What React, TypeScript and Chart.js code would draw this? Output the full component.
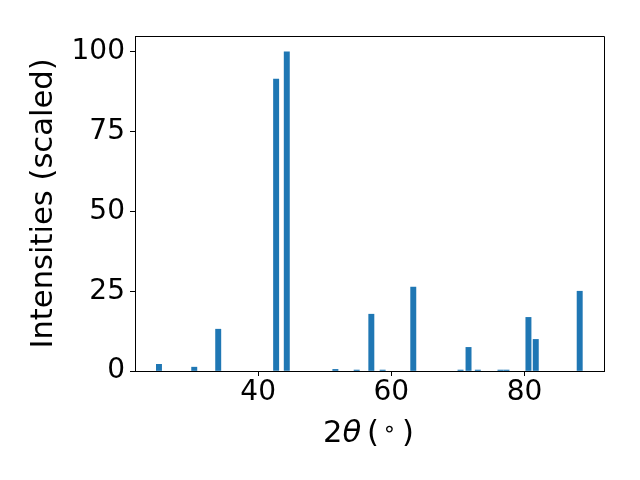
import React, { useEffect, useRef } from "react";
import { Chart, registerables } from "chart.js";

Chart.register(...registerables);

const twoTheta = [25.1, 30.4, 34.0, 42.7, 44.3, 51.6, 54.8, 57.0, 58.7, 63.3, 70.4, 71.6, 73.0, 76.4, 77.3, 80.6, 81.7, 88.3];
const intensity = [2.1, 1.2, 13.1, 91.5, 100, 0.5, 0.3, 17.8, 0.3, 26.3, 0.3, 7.4, 0.3, 0.3, 0.3, 16.8, 9.9, 25.0];
const xTicks = [40, 60, 80];
const yTicks = [0, 25, 50, 75, 100];
const xRange = [21.5, 91.95];
const yRange = [0, 105];
const yLabel = "Intensities (scaled)";

const FONT = "'DejaVu Sans', sans-serif";
const LABEL_SIZE = 30.6;

const framePlugin = {
  id: "frame",
  afterDraw(chart: any) {
    const { ctx, chartArea } = chart;
    ctx.save();
    ctx.strokeStyle = "#000";
    ctx.lineWidth = 1;
    const l = Math.round(chartArea.left) + 0.5;
    const r = Math.round(chartArea.right) + 0.5;
    const t = Math.round(chartArea.top) + 0.5;
    const b = Math.round(chartArea.bottom) + 0.5;
    ctx.beginPath();
    ctx.moveTo(l, t);
    ctx.lineTo(r, t);
    ctx.lineTo(r, b);
    ctx.stroke();

    // x-axis label: 2θ ( ∘ )
    const cx = (chartArea.left + chartArea.right) / 2;
    const baseY = 442;
    const main = `${LABEL_SIZE}px ${FONT}`;
    const ital = `oblique ${LABEL_SIZE}px ${FONT}`;
    ctx.fillStyle = "#000";
    ctx.textBaseline = "alphabetic";
    ctx.textAlign = "left";
    let x = cx - 46.5;
    ctx.font = main;
    ctx.fillText("2", x, baseY);
    x += ctx.measureText("2").width;
    ctx.font = ital;
    ctx.fillText("θ", x, baseY);
    ctx.font = main;
    ctx.fillText("(", cx - 2.5, baseY);
    ctx.fillText(")", cx + 32.5, baseY);
    ctx.font = `22px ${FONT}`;
    ctx.textAlign = "center";
    ctx.fillText("∘", cx + 20, baseY - 6);
    ctx.restore();
  },
};

export default function App() {
  const ref = useRef<HTMLCanvasElement | null>(null);
  useEffect(() => {
    if (!ref.current) return;
    const chart = new Chart(ref.current, {
      type: "bar",
      data: {
        datasets: [
          {
            data: twoTheta.map((x, i) => ({ x, y: intensity[i] })),
            backgroundColor: "#1f77b4",
            borderWidth: 0,
            barThickness: 5.3,
          },
        ],
      },
      options: {
        animation: false,
        responsive: false,
        devicePixelRatio: 1,
        layout: { padding: { top: 36, right: 36, left: 0, bottom: 0 } },
        plugins: { legend: { display: false }, tooltip: { enabled: false } },
        scales: {
          x: {
            type: "linear",
            min: xRange[0],
            max: xRange[1],
            offset: false,
            bounds: "data",
            afterBuildTicks: (s: any) => {
              s.ticks = xTicks.map((v) => ({ value: v }));
            },
            afterFit: (s: any) => {
              s.height = 109;
            },
            grid: { offset: false, drawOnChartArea: false, drawTicks: true, tickLength: 5, tickColor: "#000", tickWidth: 1 },
            border: { display: true, color: "#000", width: 1 },
            ticks: { color: "#000", font: { family: FONT, size: 28 }, padding: 0, maxRotation: 0, autoSkip: false },
          },
          y: {
            type: "linear",
            min: yRange[0],
            max: yRange[1],
            bounds: "data",
            afterBuildTicks: (s: any) => {
              s.ticks = yTicks.map((v) => ({ value: v }));
            },
            afterFit: (s: any) => {
              s.width = 135;
            },
            grid: { drawOnChartArea: false, drawTicks: true, tickLength: 5, tickColor: "#000", tickWidth: 1 },
            border: { display: true, color: "#000", width: 1 },
            ticks: { color: "#000", font: { family: FONT, size: 28 }, padding: 5, autoSkip: false },
            title: {
              display: true,
              text: yLabel,
              color: "#000",
              font: { family: FONT, size: LABEL_SIZE },
              padding: { top: 26, bottom: 0 },
            },
          },
        },
      },
      plugins: [framePlugin],
    });
    return () => chart.destroy();
  }, []);
  return (
    <div style={{ position: "fixed", left: 0, top: 0, width: 640, height: 480, background: "#fff" }}>
      <canvas ref={ref} width={640} height={480} />
    </div>
  );
}
